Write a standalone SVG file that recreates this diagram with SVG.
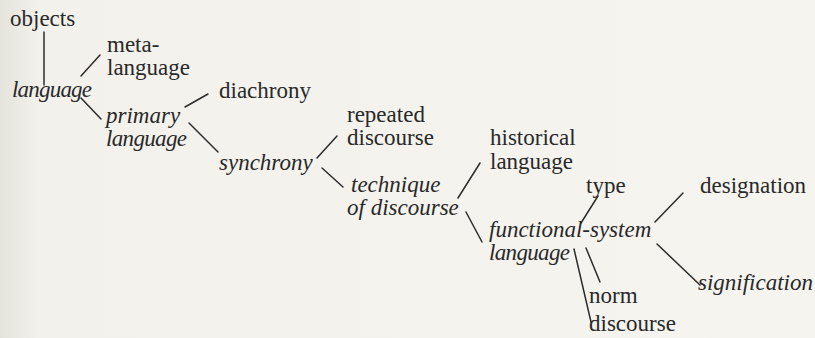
<svg xmlns="http://www.w3.org/2000/svg" width="815" height="338" viewBox="0 0 815 338">
  <style>
    .t { font-family: "Liberation Serif", "DejaVu Serif", serif; font-size: 23px; fill: #292929; }
    .i { font-style: italic; }
    .c line { stroke: #2c2c2c; stroke-width: 1.5; stroke-linecap: round; }
  </style>
  <defs>
    <linearGradient id="page" x1="0" y1="0" x2="1" y2="0">
      <stop offset="0" stop-color="#e4e4dd"/>
      <stop offset="0.05" stop-color="#f2f1eb"/>
      <stop offset="1" stop-color="#f5f4ef"/>
    </linearGradient>
  </defs>
  <rect width="815" height="338" fill="url(#page)"/>

  <!-- connectors -->
  <g class="c" id="connectors">
    <line x1="44" y1="32" x2="44" y2="85"/>
    <line x1="81" y1="76" x2="100" y2="55"/>
    <line x1="81" y1="98" x2="101" y2="119"/>
    <line x1="185" y1="107" x2="208" y2="94"/>
    <line x1="189" y1="123" x2="218" y2="152"/>
    <line x1="317" y1="158" x2="337" y2="136"/>
    <line x1="322" y1="168" x2="343" y2="187"/>
    <line x1="458" y1="198" x2="480" y2="163"/>
    <line x1="466" y1="212" x2="482" y2="242"/>
    <line x1="581" y1="223" x2="598" y2="196"/>
    <line x1="655" y1="222" x2="683" y2="193"/>
    <line x1="657" y1="244" x2="700" y2="285"/>
    <line x1="586" y1="248" x2="600" y2="282"/>
    <line x1="574" y1="249" x2="591" y2="322"/>
  </g>

  <!-- nodes -->
  <g id="objects"><text class="t" x="10" y="26">objects</text></g>
  <g id="metalanguage"><text class="t" x="107" y="52">meta-</text><text class="t" x="107" y="75">language</text></g>
  <g id="language"><text class="t i" x="12" y="97" textLength="80" lengthAdjust="spacing">language</text></g>
  <g id="primary-language"><text class="t i" x="106" y="123">primary</text><text class="t i" x="106" y="146" textLength="81" lengthAdjust="spacing">language</text></g>
  <g id="diachrony"><text class="t" x="219" y="98">diachrony</text></g>
  <g id="synchrony"><text class="t i" x="219" y="170">synchrony</text></g>
  <g id="repeated-discourse"><text class="t" x="347" y="122">repeated</text><text class="t" x="347" y="145">discourse</text></g>
  <g id="technique-of-discourse"><text class="t i" x="351" y="192">technique</text><text class="t i" x="347" y="215">of discourse</text></g>
  <g id="historical-language"><text class="t" x="490" y="145">historical</text><text class="t" x="490" y="169">language</text></g>
  <g id="type"><text class="t" x="586" y="193">type</text></g>
  <g id="designation"><text class="t" x="700" y="193">designation</text></g>
  <g id="functional-system-language"><text class="t i" x="489" y="237">functional-system</text><text class="t i" x="489" y="260" textLength="81" lengthAdjust="spacing">language</text></g>
  <g id="signification"><text class="t i" x="698" y="290">signification</text></g>
  <g id="norm"><text class="t" x="589" y="303">norm</text></g>
  <g id="discourse"><text class="t" x="589" y="331">discourse</text></g>
</svg>
